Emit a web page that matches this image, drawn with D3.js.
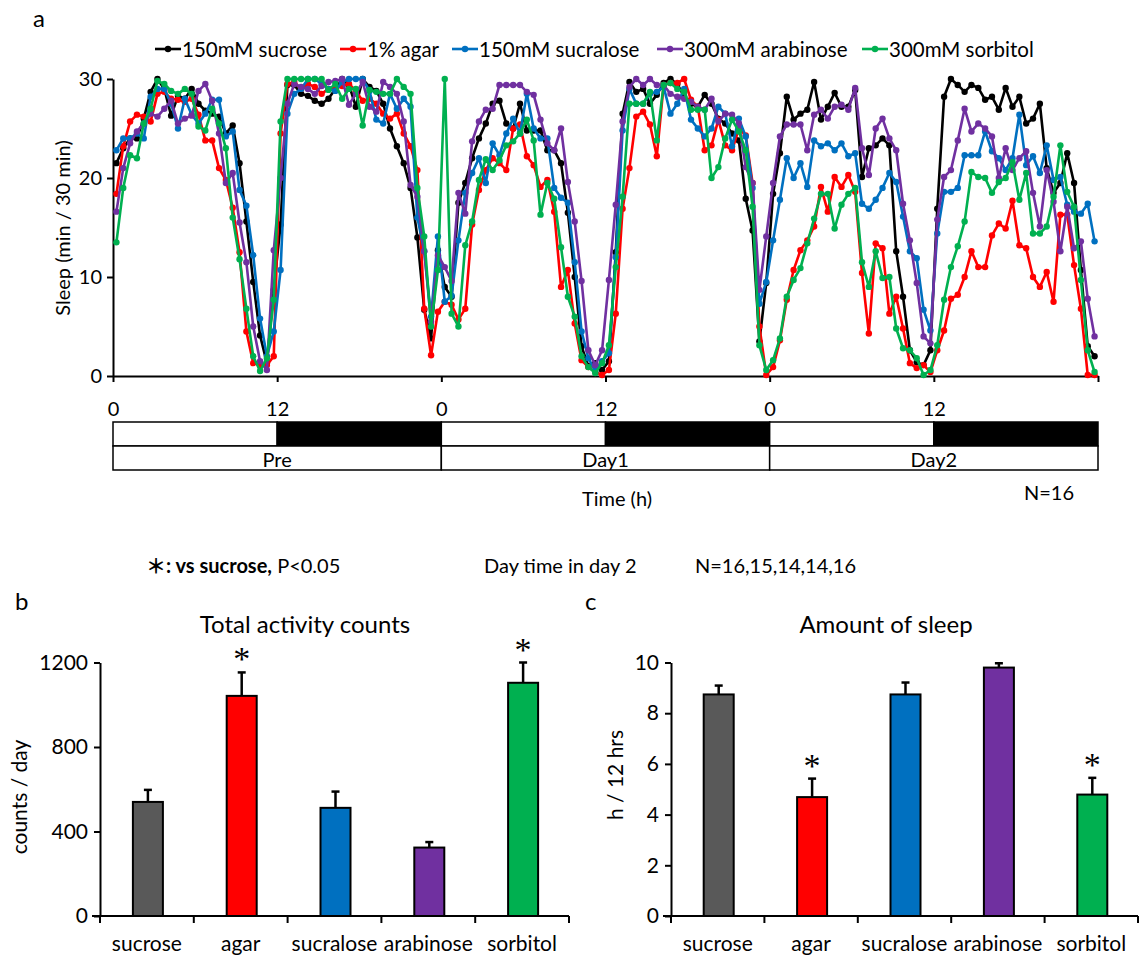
<!DOCTYPE html>
<html><head><meta charset="utf-8">
<script src="https://cdn.jsdelivr.net/npm/d3@7"></script>
<style>
body{margin:0;background:#fff;}
svg text{font-family:Lato,"Open Sans",sans-serif;fill:#000;}
</style></head><body>
<svg id="chart" width="1142" height="957"></svg>
<script>
// ---------- DATA ----------
const seriesNames = ["150mM sucrose","1% agar","150mM sucralose","300mM arabinose","300mM sorbitol"];
const seriesColors = ["#000000","#ff0000","#0070c0","#7030a0","#00b050"];
// sleep (min / 30 min), 144 half-hour bins: Pre, Day1, Day2
const sucrose = [
21.5,23,24,24,26,28.7,30,29,26.3,28.3,28,29,27.5,26.8,26.5,26.2,24.5,25.3,21.5,15.6,9.5,4.1,1.3,8.7,
15.3,29.4,29.4,28.5,28.3,27.8,27.5,28,29,30,29.4,27.2,30,29.2,28.8,27.5,25,23.2,21.5,19,14,6.7,3.8,12.7,
9,8,17.5,19.5,22,24,25.5,27.5,27.8,25.5,25,27.5,24.8,24.8,24.8,22.8,22.8,21.5,16.5,10,3,1,1.3,0.6,
1.5,12.5,26.5,29.7,28.7,29,27.5,28.4,29.6,30,29.5,28.2,27.5,27.2,28.4,27.5,26,25.5,24.5,23.8,17.9,14.7,3.5,9.4,
18.4,22.5,28.2,25.9,26.5,26.9,29.7,25.9,27.2,28.6,27.2,27.2,28.9,20.1,23,23.3,24,23.3,12.6,8,2.6,1.4,1.1,2.6,
16.9,28.2,30,29.4,28.7,29.4,29.1,27.9,28.2,26.9,29.1,27.2,28.2,25.5,26,27.5,21,18.5,19.5,22.5,19.5,10.7,3,2];
const agar = [
18.4,23.2,25.7,26.4,26.2,25.7,28.5,28.7,28,27.9,27.7,28,26.4,23.8,23.8,21,19.8,17,12.5,4.5,1.3,1.1,1.1,2,
24.5,29.5,29.7,29,29.5,29.2,28.5,29,29,29.3,29.5,28.8,27.8,28,27.5,26.5,26,26.5,24.5,23.2,20.8,6.8,2.1,6.5,
7.5,7.2,5.7,6.8,15.3,18.8,20.8,22,21.5,20.8,25,25.4,22.2,21.3,19.1,19.8,16.6,9,10.7,5.3,1.6,0.9,0.4,0.1,
0.6,6.3,16.9,21,26.2,26.7,25.4,22.2,29.4,29.6,29.6,30,27.9,27.2,22.8,23.3,25.9,23.3,22.8,25,24.3,19.5,5,0.1,
0.9,3.6,7.7,10.7,12.7,13.7,15.1,19.1,16.6,20.1,19.1,20.3,18.6,10.4,4.3,13.4,12.9,6.3,8,4.8,1.3,0.8,1.1,0.4,
2.6,4.6,7.8,8.2,10,12.6,11,11,14.2,15.4,14.9,17.7,13.2,12.9,10,9,10.5,7.5,16.3,16.3,11.2,6.8,0.1,0.1];
const sucralose = [
22.8,24,24,24.5,24,28.2,29,29,27.5,25,28,26.4,25.5,26.5,27.9,27.9,24.2,24.7,18.8,17.2,12.2,5.8,2,4.5,
10.7,26.5,28.5,29,30,30,29.5,29,28.8,29.7,30,30,30,28.8,25.9,25.5,28.5,27,28,27.2,16,12.6,6,14.1,
7.5,8.1,13.7,18.5,20.5,22,19.5,23.5,22.3,24.5,26,24.5,28.5,25,24,24,19,18,17.5,11.5,4.5,1.8,0.5,1.5,
2.3,12,24.8,29,27.5,27.5,28.5,28.7,29.2,26.5,27.5,29,25.9,25,24.2,25,27.2,26.5,23.2,26,24.2,19,7.3,9.5,
13.7,17.8,22,20,21.5,19.1,23.8,23.2,23.5,22.8,23.5,22.2,22.5,17.4,16.9,17.8,19,20.5,19.6,16.1,12.6,11.9,6.7,4.6,
14.4,18.6,18.6,19,22.3,22.3,22.3,24.7,22.7,22,20.8,22,26.4,21.3,22.2,20.5,23.3,19.8,20.1,17.3,16.6,16.4,17.4,13.6];
const arabinose = [
16.6,21,23.5,24.7,25.5,26.5,26.2,27,27.8,25.5,26,26.3,28.8,29.5,27.8,24.5,19.5,20.5,15.5,11.5,5,1.5,0.6,12.7,
20,27.5,29.5,29.2,29,28.5,29.3,29.7,29.8,30,27.4,28.5,29.7,27.2,26.7,29.7,29.2,28.5,25.7,19.3,18.1,12.6,5.5,12.2,
11,9.6,18.5,16.4,23.7,25.7,26.9,27,29.4,29.4,29.4,29.4,28.7,28.4,25.9,23.5,22.8,25,19.6,15.6,9.6,2.6,1.1,2.6,
9.7,17.3,25.7,29.2,30,29.4,30,29.4,29.4,28.5,28.2,28,27.7,27.2,26.9,28,25.7,26.5,26.4,25.5,21.1,19.5,8.7,14.1,
19.5,24.2,25.4,25.4,25.4,22.8,26.4,26.9,26,27.2,27.4,26.9,29.1,23,20.3,25,26,24,22.8,17.4,13.7,9.4,4,3.3,
15.8,20.1,20.8,23.8,27,24.7,25.5,25,24.2,20,23,20.8,22,22.7,18.5,15.1,20.8,17.6,12.6,17.1,12.9,13.6,7.8,4];
const sorbitol = [
13.5,19,22.3,22,25.5,27,29.8,29.5,28.8,28.5,29,28.5,25.2,24.8,27,25.5,23,16,11.8,6.8,2,0.5,1.8,7.7,
25.7,30,30,30,30,30,30,28.9,29.5,28,29,29,25.3,28.9,28.7,28.5,28.5,30,29.2,28.5,19,14.1,5,10.7,
30,6.3,5,13.2,15.6,19.8,21.9,20.8,21.8,23.3,23.7,24.5,25.9,23.8,16.3,19.5,17.9,13,8,6,2,0.9,0.3,1.3,
3.1,11,18.1,27.5,27.5,27.5,28.7,23.8,29.4,29.6,29,28.7,26.9,26.9,26.9,20,21.1,24,25.9,24.7,22.8,17.1,3.1,0.6,
1.6,3.8,8,9.7,10.9,13.4,15.9,18.4,18.4,14.9,17.3,18.4,19,11.5,9,12.6,9.9,10,4.8,2.8,2.6,1.8,0.1,0.6,
3.1,7.7,11,13.1,15.6,20.6,20.1,20,18.5,19.6,20,21.6,17.8,20.5,14.4,14.4,15.1,18.1,23.3,18.6,17.1,9.7,2.6,0.4];
const seriesValues = [sucrose, agar, sucralose, arabinose, sorbitol];
const xTickLabels = ["0","12","0","12","0","12",""];
const yTicksA = [0,10,20,30];
const dayLabels = ["Pre","Day1","Day2"];

const barCategories = ["sucrose","agar","sucralose","arabinose","sorbitol"];
const barColors = ["#595959","#ff0000","#0070c0","#7030a0","#00b050"];
const activityMean = [540,1042,512,324,1104];
const activityErr = [57,111,77,26,96];
const sleepMean = [8.74,4.69,8.74,9.80,4.79];
const sleepErr = [0.35,0.73,0.47,0.17,0.66];
const significant = [false,true,false,false,true];
const yTicksB = [0,400,800,1200];
const yTicksC = [0,2,4,6,8,10];

// ---------- DRAW ----------
const svg = d3.select("#chart");
const FS = 20;

// Panel a
svg.append("text").attr("x",33).attr("y",27).attr("font-size",24).text("a");

const x = d3.scaleLinear().domain([0,144]).range([113,1098]);
const y = d3.scaleLinear().domain([0,30]).range([376,79]);

const gA = svg.append("g");
const yAxis = gA.append("g").attr("transform","translate(113,0)")
  .call(d3.axisLeft(y).tickValues(yTicksA).tickSize(6).tickPadding(5).tickSizeOuter(0));
const xAxis = gA.append("g").attr("transform","translate(0,376)")
  .call(d3.axisBottom(x).tickValues(d3.range(0,145,24)).tickFormat((d,i)=>xTickLabels[i]).tickSize(6).tickPadding(20).tickSizeOuter(0));
[yAxis,xAxis].forEach(g=>{
  g.selectAll("path,line").attr("stroke","#000").attr("stroke-width",2);
  g.selectAll("text").attr("font-size",FS).style("font-family","Lato");
});
gA.append("text").attr("transform","translate(62,228) rotate(-90)")
  .attr("text-anchor","middle").attr("dominant-baseline","central").attr("font-size",FS)
  .text("Sleep (min / 30 min)");

const line = d3.line().x((d,i)=>x(i+0.5)).y(d=>y(d));
seriesValues.forEach((vals,k)=>{
  const g = gA.append("g");
  g.append("path").datum(vals).attr("d",line).attr("fill","none")
    .attr("stroke",seriesColors[k]).attr("stroke-width",2.6).attr("stroke-linejoin","round");
  g.selectAll("circle").data(vals).join("circle")
    .attr("cx",(d,i)=>x(i+0.5)).attr("cy",d=>y(d)).attr("r",3.2).attr("fill",seriesColors[k]);
});

// legend
const legendX = [155,340,452,657,862];
const ly = 49;
seriesNames.forEach((name,k)=>{
  const lx = legendX[k];
  const g = svg.append("g");
  g.append("line").attr("x1",lx).attr("x2",lx+26).attr("y1",ly).attr("y2",ly)
    .attr("stroke",seriesColors[k]).attr("stroke-width",2.6);
  g.append("circle").attr("cx",lx+13).attr("cy",ly).attr("r",3.2).attr("fill",seriesColors[k]);
  g.append("text").attr("x",lx+27).attr("y",ly).attr("dominant-baseline","central")
    .attr("font-size",20.5).text(name);
});

// light/dark bar
const barTop = 422, barMid = 446, barBot = 470;
const gBar = svg.append("g");
dayLabels.forEach((lab,dI)=>{
  const s = dI*48;
  gBar.append("rect").attr("x",x(s)).attr("y",barTop).attr("width",x(s+24)-x(s)).attr("height",barMid-barTop)
    .attr("fill","#fff").attr("stroke","#000").attr("stroke-width",1.5);
  gBar.append("rect").attr("x",x(s+24)).attr("y",barTop).attr("width",x(s+48)-x(s+24)).attr("height",barMid-barTop)
    .attr("fill","#000").attr("stroke","#000").attr("stroke-width",1.5);
  gBar.append("rect").attr("x",x(s)).attr("y",barMid).attr("width",x(s+48)-x(s)).attr("height",barBot-barMid)
    .attr("fill","#fff").attr("stroke","#000").attr("stroke-width",1.5);
  gBar.append("text").attr("x",(x(s)+x(s+48))/2).attr("y",barMid+13).attr("text-anchor","middle")
    .attr("dominant-baseline","central").attr("font-size",FS).text(lab);
});
svg.append("text").attr("x",617).attr("y",498).attr("text-anchor","middle").attr("dominant-baseline","central")
  .attr("font-size",FS).text("Time (h)");
svg.append("text").attr("x",1049).attr("y",492).attr("text-anchor","middle").attr("dominant-baseline","central")
  .attr("font-size",FS).text("N=16");

// note row
const note = svg.append("text").attr("x",146).attr("y",565).attr("dominant-baseline","central").attr("font-size",FS);
note.append("tspan").attr("font-weight","bold").style("font-family","'Noto Sans CJK JP'").text("＊");
note.append("tspan").attr("font-weight","bold").text(": vs sucrose,");
note.append("tspan").text(" P<0.05");
svg.append("text").attr("x",484).attr("y",565).attr("dominant-baseline","central").attr("font-size",FS).text("Day time in day 2");
svg.append("text").attr("x",695).attr("y",565).attr("dominant-baseline","central").attr("font-size",FS).text("N=16,15,14,14,16");

// bar panels
function barPanel(opts){
  const {label,labelX,title,titleX,x0,x1,yDomain,yTicks,means,errs,ylab,ylabX,ylabY} = opts;
  const g = svg.append("g");
  const xb = d3.scaleBand().domain(barCategories).range([x0,x1]);
  const yb = d3.scaleLinear().domain(yDomain).range([916,662.5]);
  g.append("text").attr("x",labelX).attr("y",610).attr("font-size",24).text(label);
  g.append("text").attr("x",titleX).attr("y",633).attr("text-anchor","middle").attr("font-size",24).text(title);
  const bw = 30;
  barCategories.forEach((c,i)=>{
    const cx = xb(c)+xb.bandwidth()/2+1;
    const top = yb(means[i]+errs[i]);
    g.append("line").attr("x1",cx).attr("x2",cx).attr("y1",yb(means[i])).attr("y2",top)
      .attr("stroke","#000").attr("stroke-width",2.5);
    g.append("line").attr("x1",cx-4).attr("x2",cx+4).attr("y1",top).attr("y2",top)
      .attr("stroke","#000").attr("stroke-width",2.5);
    g.append("rect").attr("x",cx-bw/2).attr("y",yb(means[i])).attr("width",bw).attr("height",yb(0)-yb(means[i]))
      .attr("fill",barColors[i]).attr("stroke","#000").attr("stroke-width",2);
    if(significant[i]){
      g.append("text").attr("x",cx).attr("y",top-2).attr("text-anchor","middle")
        .attr("font-size",34).style("font-family","'Liberation Serif'").text("*");
    }
  });
  const ya = g.append("g").attr("transform",`translate(${x0},0)`)
    .call(d3.axisLeft(yb).tickValues(yTicks).tickFormat(d3.format("d")).tickSize(6).tickPadding(6).tickSizeOuter(0));
  ya.selectAll("text").attr("font-size",21).style("font-family","Lato");
  // x axis with ticks at band boundaries
  g.append("line").attr("x1",x0-8).attr("x2",x1).attr("y1",916).attr("y2",916).attr("stroke","#000").attr("stroke-width",2);
  d3.range(barCategories.length+1).forEach(i=>{
    const tx = x0 + i*xb.step();
    g.append("line").attr("x1",tx).attr("x2",tx).attr("y1",916).attr("y2",923).attr("stroke","#000").attr("stroke-width",2);
  });
  barCategories.forEach(c=>{
    g.append("text").attr("x",xb(c)+xb.bandwidth()/2).attr("y",951).attr("text-anchor","middle")
      .attr("font-size",21).text(c);
  });
  ya.selectAll("path,line").attr("stroke","#000").attr("stroke-width",2);
  g.append("text").attr("transform",`translate(${ylabX},${ylabY}) rotate(-90)`).attr("text-anchor","middle")
    .attr("dominant-baseline","central").attr("font-size",21).text(ylab);
}
barPanel({label:"b",labelX:15,title:"Total activity counts",titleX:305,x0:100,x1:569,yDomain:[0,1200],yTicks:yTicksB,
  means:activityMean,errs:activityErr,ylab:"counts / day",ylabX:18,ylabY:797});
barPanel({label:"c",labelX:585,title:"Amount of sleep",titleX:886,x0:671,x1:1138,yDomain:[0,10],yTicks:yTicksC,
  means:sleepMean,errs:sleepErr,ylab:"h / 12 hrs",ylabX:614,ylabY:775});
</script>
</body></html>
